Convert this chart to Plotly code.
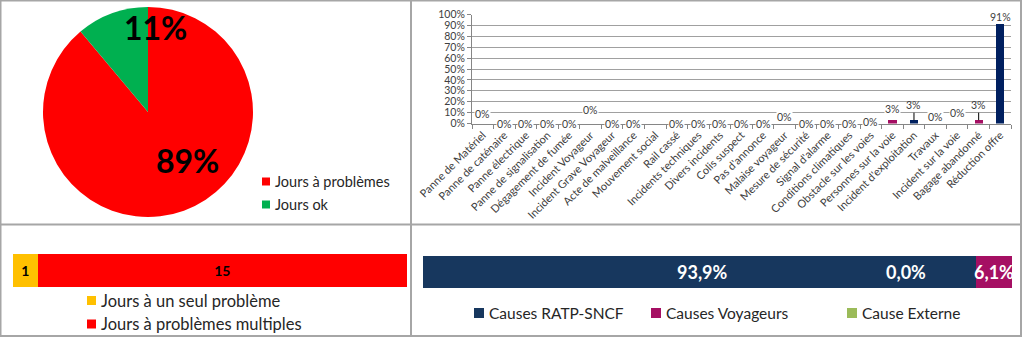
import plotly.graph_objects as go

W, H = 1024, 339
FONT = "Lato"

# ---------------- data ----------------
# Panel 1 : days with / without problems
pie_labels = ["Jours à problèmes", "Jours ok"]
pie_values = [16, 2]

# Panel 2 : distribution of causes
cause_names = [
    "Panne de Matériel", "Panne de caténaire", "Panne électrique",
    "Panne de signalisation", "Dégagement de fumée", "Incident Voyageur",
    "Incident Grave Voyageur", "Acte de malveillance", "Mouvement social",
    "Rail cassé", "Incidents techniques", "Divers incidents", "Colis suspect",
    "Pas d'annonce", "Malaise voyageur", "Mesure de sécurité",
    "Signal d'alarme", "Conditions climatiques", "Obstacle sur les voies",
    "Personnes sur la voie", "Incident d'exploitation", "Travaux",
    "Incident sur la voie", "Bagage abandonné", "Réduction offre",
]
cause_values = [0, 0, 0, 0, 0, 0, 0, 0, 0, 0, 0, 0, 0, 0, 0, 0, 0, 0, 0,
                3.03, 3.03, 0, 0, 3.03, 90.91]
cause_labels = ["0%", "0%", "0%", "0%", "0%", "0%", "0%", "0%", "0%", "0%",
                "0%", "0%", "0%", "0%", "0%", "0%", "0%", "0%", "0%",
                "3%", "3%", "0%", "0%", "3%", "91%"]
cause_type = ["RATP", "RATP", "RATP", "RATP", "RATP", "Voyageurs",
              "Voyageurs", "Voyageurs", "Externe", "RATP", "RATP", "RATP",
              "Voyageurs", "RATP", "Voyageurs", "RATP", "Voyageurs",
              "Externe", "Externe", "Voyageurs", "RATP", "RATP", "RATP",
              "Voyageurs", "RATP"]

# Panel 3 : single vs multiple problem days
day_types = ["Jours à un seul problème", "Jours à problèmes multiples"]
day_counts = [1, 15]

# Panel 4 : share of causes
group_names = ["Causes RATP-SNCF", "Cause Externe", "Causes Voyageurs"]
group_shares = [93.9, 0.0, 6.1]
legend_order = ["Causes RATP-SNCF", "Causes Voyageurs", "Cause Externe"]

# ---------------- styles ----------------
pie_colors = ["#FF0000", "#00B050"]
type_colors = {"RATP": "#002060", "Voyageurs": "#A50F63", "Externe": "#9BBB59"}
day_colors = ["#FFC000", "#FF0000"]
group_colors = {"Causes RATP-SNCF": "#17375E", "Cause Externe": "#9BBB59",
                "Causes Voyageurs": "#A50F63"}
# vertical position (in % units) of each data label of panel 2
label_y = [8.7, 0, 0, 0, 0, 12.4, 0, 0, -0.5, 0, 0, 0, 0, 0, 6, 0, 0, 0, 1,
           13.3, None, 6, 9.6, None, 97.7]
# horizontal position (in % units) of each data label of panel 4
share_label_x = [47.5, 82.0, None]
BORDER = "#A6A6A6"


def px(x):
    return x / W


def py(y):
    return 1 - y / H


fig = go.Figure()

# ---- Panel 1 : pie ----
fig.add_trace(go.Pie(
    labels=pie_labels, values=pie_values, sort=False, direction="clockwise",
    rotation=0, marker=dict(colors=pie_colors, line=dict(width=0)),
    textinfo="none", showlegend=False,
    domain=dict(x=[px(43), px(253)], y=[py(217), py(7)]),
))
total = sum(pie_values)
pie_text_pos = [(187, 160), (155, 27)]
for v, (tx, ty) in zip(pie_values, pie_text_pos):
    fig.add_annotation(xref="paper", yref="paper", x=px(tx), y=py(ty),
                       xanchor="center", yanchor="middle",
                       text=f"{round(v / total * 100)}%", showarrow=False,
                       font=dict(family=FONT, size=32, color="black", weight="bold"))
for i, (lab, col) in enumerate(zip(pie_labels, pie_colors)):
    cy = 181.5 + i * 23
    fig.add_shape(type="rect", xref="paper", yref="paper",
                  x0=px(262), x1=px(270), y0=py(cy - 4), y1=py(cy + 4),
                  fillcolor=col, line=dict(width=0))
    fig.add_annotation(xref="paper", yref="paper", x=px(273), y=py(cy),
                       xanchor="left", yanchor="middle", text=lab, showarrow=False,
                       font=dict(family=FONT, size=14.5, color="#262626"))

# ---- Panel 2 : bar chart of causes ----
fig.add_trace(go.Bar(
    x=cause_names, y=cause_values, width=0.38,
    marker=dict(color=[type_colors[t] for t in cause_type], line=dict(width=0)),
    xaxis="x", yaxis="y", showlegend=False,
))
for name, val, lab, ly in zip(cause_names, cause_values, cause_labels, label_y):
    if ly is None:
        fig.add_annotation(xref="x", yref="y", x=name, y=val, text=lab,
                           showarrow=True, arrowhead=0, arrowwidth=1,
                           arrowcolor="#000000", ax=0, ay=-15, standoff=0,
                           font=dict(family=FONT, size=10.5, color="#404040"))
    else:
        fig.add_annotation(xref="x", yref="y", x=name, y=ly, text=lab,
                           showarrow=False, bgcolor="white", borderpad=0,
                           xanchor="center", yanchor="middle",
                           font=dict(family=FONT, size=10.5, color="#404040"))

# ---- Panel 3 : stacked day bar ----
for name, cnt, col in zip(day_types, day_counts, day_colors):
    fig.add_trace(go.Bar(
        y=[0], x=[cnt], orientation="h", width=1, name=name,
        marker=dict(color=col, line=dict(width=0)),
        text=[str(cnt)], textposition="inside", insidetextanchor="middle",
        textfont=dict(family=FONT, size=14, color="black", weight="bold"),
        xaxis="x2", yaxis="y2", showlegend=False,
    ))
for i, (name, col) in enumerate(zip(day_types, day_colors)):
    cy = 300.5 + i * 23.5
    fig.add_shape(type="rect", xref="paper", yref="paper",
                  x0=px(87), x1=px(96), y0=py(cy - 4.5), y1=py(cy + 4.5),
                  fillcolor=col, line=dict(width=0))
    fig.add_annotation(xref="paper", yref="paper", x=px(99), y=py(cy),
                       xanchor="left", yanchor="middle", text=name, showarrow=False,
                       font=dict(family=FONT, size=16.5, color="#262626"))

# ---- Panel 4 : stacked share bar ----
def fmt(v):
    return f"{v:.1f}".replace(".", ",") + "%"

label_font = dict(family=FONT, size=18, color="white", weight="bold")
for name, share, lx in zip(group_names, group_shares, share_label_x):
    fig.add_trace(go.Bar(
        y=[0], x=[share], orientation="h", width=1, name=name,
        marker=dict(color=group_colors[name], line=dict(width=0)),
        text=[fmt(share)] if lx is None else [""], textposition="inside",
        insidetextanchor="middle", constraintext="none", textfont=label_font,
        xaxis="x3", yaxis="y3", showlegend=False,
    ))
    if lx is not None:
        fig.add_annotation(xref="x3", yref="y3", x=lx, y=0, text=fmt(share),
                           showarrow=False, xanchor="center", yanchor="middle",
                           font=label_font)
leg_x = [474, 651, 847]
for name, lx in zip(legend_order, leg_x):
    cy = 313
    fig.add_shape(type="rect", xref="paper", yref="paper",
                  x0=px(lx), x1=px(lx + 10), y0=py(cy - 5), y1=py(cy + 5),
                  fillcolor=group_colors[name], line=dict(width=0))
    fig.add_annotation(xref="paper", yref="paper", x=px(lx + 13), y=py(cy),
                       xanchor="left", yanchor="middle", text=name, showarrow=False,
                       font=dict(family=FONT, size=15.5, color="#262626"))

# ---- panel borders ----
border_lines = [
    (0.5, 0, 0.5, 337), (411, 0, 411, 337), (1021, 0, 1021, 337),
    (0, 0.5, 1022, 0.5), (0, 224.5, 1022, 224.5), (0, 336, 1022, 336),
]
for x0, y0, x1, y1 in border_lines:
    fig.add_shape(type="line", xref="paper", yref="paper",
                  x0=px(x0), y0=py(y0), x1=px(x1), y1=py(y1),
                  line=dict(color=BORDER, width=2))

hidden = dict(visible=False, showgrid=False, zeroline=False, fixedrange=True)
fig.update_layout(
    width=W, height=H, margin=dict(l=0, r=0, t=0, b=0),
    paper_bgcolor="white", plot_bgcolor="rgba(0,0,0,0)",
    barmode="stack", showlegend=False, template="none",
    font=dict(family=FONT, color="#404040"),
    xaxis=dict(domain=[px(472), px(1011)], anchor="y", type="category",
               range=[-0.5, len(cause_names) - 0.5], tickangle=-45,
               tickfont=dict(family=FONT, size=11, color="#404040"),
               showline=True, linecolor="#868686", linewidth=1,
               ticks="outside", tickson="boundaries", ticklen=4,
               tickcolor="#868686", showgrid=False, zeroline=False,
               automargin=False),
    yaxis=dict(domain=[py(123.5), py(14.5)], anchor="x", range=[0, 100],
               dtick=10, ticksuffix="%", showgrid=True, gridcolor="#A0A0A0",
               gridwidth=1, showline=True, linecolor="#868686", ticks="outside",
               ticklen=4, tickcolor="#868686", zeroline=False,
               tickfont=dict(family=FONT, size=10.5, color="#404040"),
               automargin=False),
    xaxis2=dict(domain=[px(13), px(407)], anchor="y2",
                range=[0, sum(day_counts)], **hidden),
    yaxis2=dict(domain=[py(287), py(254)], anchor="x2", range=[-0.5, 0.5], **hidden),
    xaxis3=dict(domain=[px(423), px(1012)], anchor="y3", range=[0, 100], **hidden),
    yaxis3=dict(domain=[py(288), py(256)], anchor="x3", range=[-0.5, 0.5], **hidden),
)

fig.write_html("out.html")
